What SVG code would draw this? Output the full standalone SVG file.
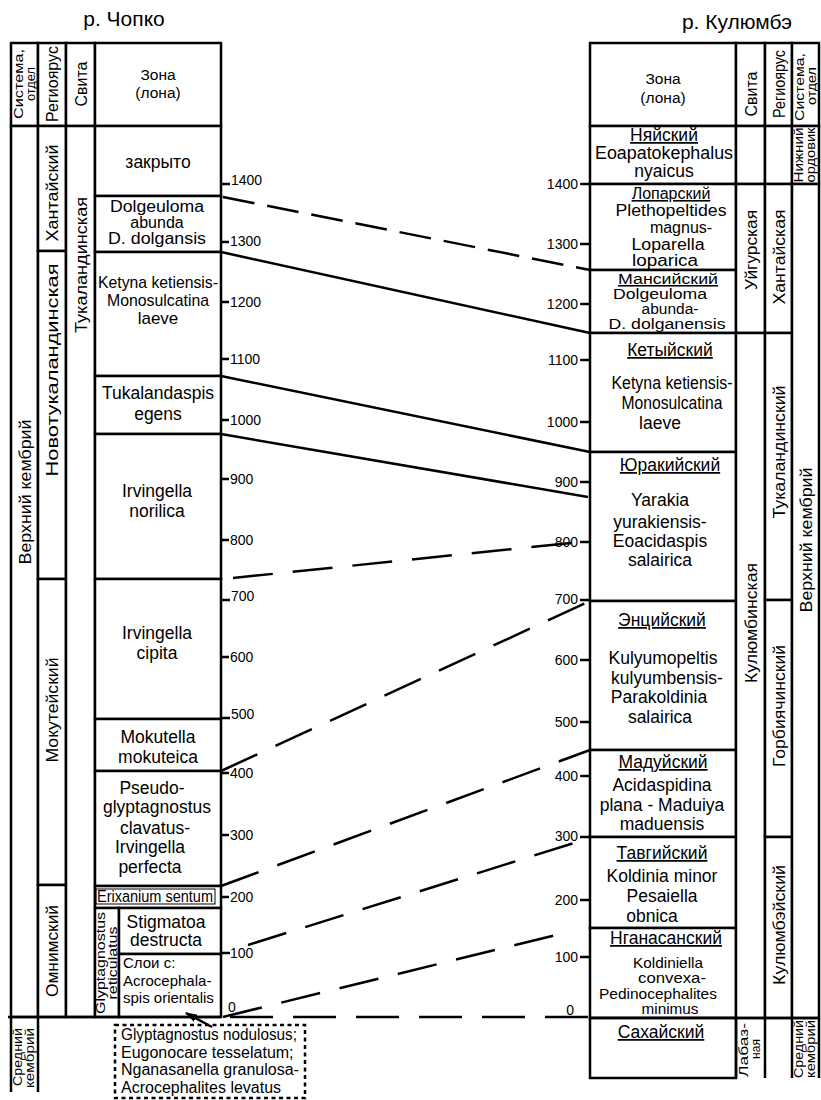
<svg xmlns="http://www.w3.org/2000/svg" width="821" height="1100" viewBox="0 0 821 1100">
<style>
.ln{stroke:#000;stroke-width:2.5;fill:none}
.bx{stroke:#000;stroke-width:2.5;fill:#fff}
.t{font-family:"Liberation Sans",Arial,sans-serif;fill:#000;text-anchor:middle}
.z{font-size:17.5px}
.h{font-size:15.5px}
.u{text-decoration:underline}
.tk{font-size:14px}
.r{font-size:16px;dominant-baseline:central}
.r2{font-size:12px;dominant-baseline:central}
.st{text-anchor:start}
.en{text-anchor:end}
.c{stroke:#000;stroke-width:2.5;fill:none}
.d1{stroke-dasharray:32 13}
.d2{stroke-dasharray:40 20}
.d3{stroke-dasharray:43 20}
</style>
<defs>
<marker id="ah" viewBox="0 0 12 8" refX="11" refY="4" markerWidth="12" markerHeight="8" markerUnits="userSpaceOnUse" orient="auto">
<path d="M0 0L12 4L0 8z" fill="#000"/>
</marker>
</defs>
<rect width="821" height="1100" fill="#fff"/>

<text class="t" x="124" y="26" font-size="21">р. Чопко</text>
<text class="t" x="737" y="29" font-size="21">р. Кулюмбэ</text>

<!-- LEFT TABLE -->
<g id="left-header">
<rect class="bx" x="11" y="43" width="27" height="83"/>
<rect class="bx" x="38" y="43" width="28" height="83"/>
<rect class="bx" x="66" y="43" width="29" height="83"/>
<rect class="bx" x="95" y="43" width="126" height="83"/>
<text class="t r2" transform="translate(19,84) rotate(-90)" textLength="70" lengthAdjust="spacingAndGlyphs">Система,</text>
<text class="t r2" transform="translate(31,84) rotate(-90)" textLength="34" lengthAdjust="spacingAndGlyphs">отдел</text>
<text class="t r" transform="translate(52,84) rotate(-90)" textLength="76" lengthAdjust="spacingAndGlyphs">Региоярус</text>
<text class="t r" transform="translate(81,84) rotate(-90)">Свита</text>
<text class="t h" x="158" y="80">Зона</text>
<text class="t h" x="158" y="98">(лона)</text>
</g>

<g id="left-system">
<rect class="bx" x="11" y="126" width="27" height="891"/>
<text class="t r" font-size="17px" transform="translate(25,492) rotate(-90)" textLength="145" lengthAdjust="spacingAndGlyphs">Верхний кембрий</text>
</g>
<g id="left-system-middle">
<path class="ln" d="M11 1017V1092M38 1017V1092"/>
<text class="t r2" transform="translate(18,1057) rotate(-90)" textLength="58" lengthAdjust="spacingAndGlyphs">Средний</text>
<text class="t r2" transform="translate(30,1058) rotate(-90)" textLength="60" lengthAdjust="spacingAndGlyphs">кембрий</text>
</g>

<g id="left-regio-khantaisky">
<rect class="bx" x="38" y="126" width="28" height="125"/>
<text class="t r" transform="translate(52,193) rotate(-90)" textLength="97" lengthAdjust="spacingAndGlyphs">Хантайский</text>
</g>
<g id="left-regio-novotukalandinskaya">
<rect class="bx" x="38" y="251" width="28" height="328"/>
<text class="t r" transform="translate(52,370) rotate(-90)" textLength="213" lengthAdjust="spacingAndGlyphs">Новотукаландинская</text>
</g>
<g id="left-regio-mokuteisky">
<rect class="bx" x="38" y="579" width="28" height="306"/>
<text class="t r" transform="translate(52,710) rotate(-90)" textLength="105" lengthAdjust="spacingAndGlyphs">Мокутейский</text>
</g>
<g id="left-regio-omnimsky">
<rect class="bx" x="38" y="885" width="28" height="132"/>
<text class="t r" transform="translate(52,951) rotate(-90)" textLength="92" lengthAdjust="spacingAndGlyphs">Омнимский</text>
</g>

<g id="left-svita">
<rect class="bx" x="66" y="126" width="29" height="891"/>
<text class="t r" transform="translate(81,265) rotate(-90)" textLength="136" lengthAdjust="spacingAndGlyphs">Тукаландинская</text>
</g>

<g id="left-zone-zakryto">
<rect class="bx" x="95" y="126" width="126" height="70"/>
<text class="t z" x="158" y="168">закрыто</text>
</g>
<g id="left-zone-dolgeuloma">
<rect class="bx" x="95" y="196" width="126" height="56"/>
<text class="t" font-size="16" x="157" y="212" textLength="94" lengthAdjust="spacingAndGlyphs">Dolgeuloma</text>
<text class="t" font-size="16" x="157" y="228">abunda</text>
<text class="t" font-size="16" x="157" y="244" textLength="98" lengthAdjust="spacingAndGlyphs">D. dolgansis</text>
</g>
<g id="left-zone-ketyna">
<rect class="bx" x="95" y="252" width="126" height="124"/>
<text class="t" font-size="17" x="158" y="288" textLength="120" lengthAdjust="spacingAndGlyphs">Ketyna ketiensis-</text>
<text class="t" font-size="17" x="158" y="306" textLength="102" lengthAdjust="spacingAndGlyphs">Monosulcatina</text>
<text class="t" font-size="17" x="158" y="324">laeve</text>
</g>
<g id="left-zone-tukalandaspis">
<rect class="bx" x="95" y="376" width="126" height="58"/>
<text class="t z" x="158" y="399">Tukalandaspis</text>
<text class="t z" x="158" y="420">egens</text>
</g>
<g id="left-zone-norilica">
<rect class="bx" x="95" y="434" width="126" height="145"/>
<text class="t z" x="157" y="497">Irvingella</text>
<text class="t z" x="157" y="517">norilica</text>
</g>
<g id="left-zone-cipita">
<rect class="bx" x="95" y="579" width="126" height="140"/>
<text class="t z" x="157" y="639">Irvingella</text>
<text class="t z" x="157" y="659">cipita</text>
</g>
<g id="left-zone-mokutella">
<rect class="bx" x="95" y="719" width="126" height="52"/>
<text class="t z" x="158" y="743">Mokutella</text>
<text class="t z" x="158" y="763">mokuteica</text>
</g>
<g id="left-zone-pseudoglyptagnostus">
<rect class="bx" x="95" y="771" width="126" height="115"/>
<text class="t z" x="152" y="794">Pseudo-</text>
<text class="t z" x="157" y="813">glyptagnostus</text>
<text class="t z" x="155" y="834">clavatus-</text>
<text class="t z" x="150" y="853">Irvingella</text>
<text class="t z" x="150" y="873">perfecta</text>
</g>
<g id="left-zone-erixanium">
<rect class="bx" x="95" y="886" width="126" height="22"/>
<rect x="96" y="889" width="119" height="15" fill="none" stroke="#000" stroke-width="1"/>
<text class="t" font-size="16" x="155" y="902" textLength="116" lengthAdjust="spacingAndGlyphs">Erixanium sentum</text>
</g>
<g id="left-svita-glyptagnostus">
<rect class="bx" x="95" y="908" width="24" height="109"/>
<text class="t r2" transform="translate(101,963) rotate(-90)" textLength="102" lengthAdjust="spacingAndGlyphs">Glyptagnostus</text>
<text class="t r2" transform="translate(113,963) rotate(-90)" textLength="73" lengthAdjust="spacingAndGlyphs">reticulatus</text>
</g>
<g id="left-zone-stigmatoa">
<rect class="bx" x="119" y="908" width="102" height="46"/>
<text class="t z" x="166" y="928">Stigmatoa</text>
<text class="t z" x="166" y="946">destructa</text>
</g>
<g id="left-zone-acrocephalaspis">
<rect class="bx" x="119" y="954" width="102" height="63"/>
<text class="t st" font-size="15" x="123" y="968">Слои с:</text>
<text class="t st" font-size="15" x="123" y="986">Acrocephala-</text>
<text class="t st" font-size="15" x="123" y="1003">spis orientalis</text>
</g>
<path class="ln" d="M8 1017H221"/>

<g id="left-scale">
<path class="ln" stroke-width="2" d="M221 184h9M221 242h8M221 302h8M221 359h8M221 420h8M221 479h8M221 540h8M221 600h9M221 657h8M221 718h9M221 773h8M221 835h8M221 897h8M221 953h9"/>
<g class="t tk st">
<text x="231" y="185">1400</text>
<text x="230" y="246">1300</text>
<text x="230" y="307">1200</text>
<text x="230" y="364">1100</text>
<text x="230" y="425">1000</text>
<text x="230" y="484">900</text>
<text x="230" y="545">800</text>
<text x="231" y="601">700</text>
<text x="230" y="662">600</text>
<text x="231" y="719">500</text>
<text x="230" y="778">400</text>
<text x="230" y="840">300</text>
<text x="230" y="902">200</text>
<text x="230" y="958">100</text>
<text x="228" y="1012">0</text>
</g>
</g>

<g id="note-box">
<rect x="115" y="1025" width="190" height="73" fill="none" stroke="#000" stroke-width="2.5" stroke-dasharray="4 3.5"/>
<g class="t st" font-size="16">
<text x="121" y="1040" textLength="176" lengthAdjust="spacingAndGlyphs">Glyptagnostus nodulosus;</text>
<text x="121" y="1058">Eugonocare tesselatum;</text>
<text x="121" y="1075">Nganasanella granulosa-</text>
<text x="121" y="1093">Acrocephalites levatus</text>
</g>
</g>

<!-- RIGHT TABLE -->
<g id="right-header">
<rect class="bx" x="590" y="43" width="146" height="83"/>
<rect class="bx" x="736" y="43" width="29" height="83"/>
<rect class="bx" x="765" y="43" width="27" height="83"/>
<rect class="bx" x="792" y="43" width="27" height="83"/>
<text class="t h" x="663" y="84">Зона</text>
<text class="t h" x="663" y="103">(лона)</text>
<text class="t r" transform="translate(751,94) rotate(-90)">Свита</text>
<text class="t r" transform="translate(779,84) rotate(-90)" textLength="68" lengthAdjust="spacingAndGlyphs">Региоярус</text>
<text class="t r2" transform="translate(800,87) rotate(-90)" textLength="68" lengthAdjust="spacingAndGlyphs">Система,</text>
<text class="t r2" transform="translate(812,86) rotate(-90)" textLength="38" lengthAdjust="spacingAndGlyphs">отдел</text>
</g>

<g id="right-zone-nyaisky">
<rect class="bx" x="590" y="126" width="146" height="58"/>
<text class="t z u" x="664" y="141">Няйский</text>
<text class="t z" x="664" y="159" textLength="138" lengthAdjust="spacingAndGlyphs">Eoapatokephalus</text>
<text class="t z" x="664" y="177">nyaicus</text>
</g>
<g id="right-zone-loparsky">
<rect class="bx" x="590" y="184" width="146" height="86"/>
<text class="t u" font-size="16" x="671" y="199">Лопарский</text>
<text class="t" font-size="16" x="671" y="216" textLength="111" lengthAdjust="spacingAndGlyphs">Plethopeltides</text>
<text class="t" font-size="16" x="681" y="233">magnus-</text>
<text class="t" font-size="16" x="668" y="250" textLength="73" lengthAdjust="spacingAndGlyphs">Loparella</text>
<text class="t" font-size="16" x="665" y="266" textLength="66" lengthAdjust="spacingAndGlyphs">loparica</text>
</g>
<g id="right-zone-mansisky">
<rect class="bx" x="590" y="270" width="146" height="63"/>
<text class="t u" font-size="15.5" x="668" y="284" textLength="100" lengthAdjust="spacingAndGlyphs">Мансийский</text>
<text class="t" font-size="15.5" x="660" y="299" textLength="94" lengthAdjust="spacingAndGlyphs">Dolgeuloma</text>
<text class="t" font-size="15.5" x="670" y="314">abunda-</text>
<text class="t" font-size="15.5" x="667" y="329" textLength="117" lengthAdjust="spacingAndGlyphs">D. dolganensis</text>
</g>
<g id="right-zone-ketyisky">
<rect class="bx" x="590" y="333" width="146" height="119"/>
<text class="t z u" x="670" y="356">Кетыйский</text>
<text class="t z" x="672" y="389" textLength="121" lengthAdjust="spacingAndGlyphs">Ketyna ketiensis-</text>
<text class="t z" x="672" y="409" textLength="101" lengthAdjust="spacingAndGlyphs">Monosulcatina</text>
<text class="t z" x="660" y="429">laeve</text>
</g>
<g id="right-zone-yurakiisky">
<rect class="bx" x="590" y="452" width="146" height="149"/>
<text class="t z u" x="670" y="471">Юракийский</text>
<text class="t z" x="660" y="506">Yarakia</text>
<text class="t z" x="660" y="528">yurakiensis-</text>
<text class="t z" x="660" y="547">Eoacidaspis</text>
<text class="t z" x="660" y="566">salairica</text>
</g>
<g id="right-zone-enciisky">
<rect class="bx" x="590" y="601" width="146" height="149"/>
<text class="t z u" x="662" y="626">Энцийский</text>
<text class="t z" x="663" y="664">Kulyumopeltis</text>
<text class="t z" x="667" y="684">kulyumbensis-</text>
<text class="t z" x="659" y="703">Parakoldinia</text>
<text class="t z" x="660" y="723">salairica</text>
</g>
<g id="right-zone-maduisky">
<rect class="bx" x="590" y="750" width="146" height="87"/>
<text class="t z u" x="663" y="768">Мадуйский</text>
<text class="t z" x="662" y="791">Acidaspidina</text>
<text class="t z" x="662" y="811">plana - Maduiya</text>
<text class="t z" x="662" y="830">maduensis</text>
</g>
<g id="right-zone-tavgiisky">
<rect class="bx" x="590" y="837" width="146" height="91"/>
<text class="t z u" x="662" y="859">Тавгийский</text>
<text class="t z" x="662" y="882">Koldinia minor</text>
<text class="t z" x="662" y="902">Pesaiella</text>
<text class="t z" x="652" y="922">obnica</text>
</g>
<g id="right-zone-nganasansky">
<rect class="bx" x="590" y="928" width="146" height="90"/>
<text class="t z u" x="666" y="944">Нганасанский</text>
<text class="t" font-size="15" x="668" y="968" textLength="70" lengthAdjust="spacingAndGlyphs">Koldiniella</text>
<text class="t" font-size="15" x="672" y="983" textLength="68" lengthAdjust="spacingAndGlyphs">convexa-</text>
<text class="t" font-size="15" x="658" y="999" textLength="118" lengthAdjust="spacingAndGlyphs">Pedinocephalites</text>
<text class="t" font-size="15" x="670" y="1014" textLength="57" lengthAdjust="spacingAndGlyphs">minimus</text>
</g>
<g id="right-zone-sakhaisky">
<rect class="bx" x="590" y="1018" width="146" height="60"/>
<text class="t z u" x="661" y="1038">Сахайский</text>
</g>

<g id="right-svita-uigurskaya">
<rect class="bx" x="736" y="126" width="29" height="58"/>
<rect class="bx" x="736" y="184" width="29" height="149"/>
<text class="t r" transform="translate(751,250) rotate(-90)" textLength="80" lengthAdjust="spacingAndGlyphs">Уйгурская</text>
</g>
<g id="right-svita-kulyumbinskaya">
<rect class="bx" x="736" y="333" width="29" height="685"/>
<text class="t r" transform="translate(751,623) rotate(-90)" textLength="120" lengthAdjust="spacingAndGlyphs">Кулюмбинская</text>
</g>
<g id="right-svita-labaznaya">
<path class="ln" d="M736 1018V1078M765 1018V1078"/>
<text class="t r2" transform="translate(744,1050) rotate(-90)" textLength="54" lengthAdjust="spacingAndGlyphs">Лабаз-</text>
<text class="t r2" transform="translate(756,1049) rotate(-90)">ная</text>
</g>

<g id="right-regio-khantaiskaya">
<rect class="bx" x="765" y="126" width="27" height="58"/>
<rect class="bx" x="765" y="184" width="27" height="149"/>
<text class="t r" transform="translate(779,257) rotate(-90)" textLength="95" lengthAdjust="spacingAndGlyphs">Хантайская</text>
</g>
<g id="right-regio-tukalandinsky">
<rect class="bx" x="765" y="333" width="27" height="267"/>
<text class="t r" transform="translate(779,452) rotate(-90)" textLength="133" lengthAdjust="spacingAndGlyphs">Тукаландинский</text>
</g>
<g id="right-regio-gorbiyachinsky">
<rect class="bx" x="765" y="600" width="27" height="237"/>
<text class="t r" transform="translate(779,706) rotate(-90)" textLength="122" lengthAdjust="spacingAndGlyphs">Горбиячинский</text>
</g>
<g id="right-regio-kulyumbeisky">
<rect class="bx" x="765" y="837" width="27" height="181"/>
<text class="t r" transform="translate(779,925) rotate(-90)" textLength="120" lengthAdjust="spacingAndGlyphs">Кулюмбэйский</text>
</g>
<path class="ln" d="M792 1018V1078"/>

<g id="right-system-lower-ordovician">
<rect class="bx" x="792" y="126" width="27" height="58"/>
<text class="t r2" transform="translate(799,155) rotate(-90)" textLength="55" lengthAdjust="spacingAndGlyphs">Нижний</text>
<text class="t r2" transform="translate(811,155) rotate(-90)" textLength="55" lengthAdjust="spacingAndGlyphs">ордовик</text>
</g>
<g id="right-system-upper-cambrian">
<rect class="bx" x="792" y="184" width="27" height="834"/>
<text class="t r" font-size="17px" transform="translate(806,540) rotate(-90)" textLength="145" lengthAdjust="spacingAndGlyphs">Верхний кембрий</text>
</g>
<g id="right-system-middle-cambrian">
<path class="ln" d="M819 1018V1078"/>
<text class="t r2" transform="translate(799,1049) rotate(-90)" textLength="58" lengthAdjust="spacingAndGlyphs">Средний</text>
<text class="t r2" transform="translate(811,1049) rotate(-90)" textLength="58" lengthAdjust="spacingAndGlyphs">кембрий</text>
</g>

<g id="right-scale">
<path class="ln" stroke-width="2" d="M580 184h10M580 244h10M580 304h10M580 360h10M580 422h10M580 482h10M580 542h10M580 600h10M580 660h10M580 722h10M580 776h10M580 837h10M580 900h10M580 957h10"/>
<g class="t tk en">
<text x="578" y="189">1400</text>
<text x="578" y="249">1300</text>
<text x="578" y="309">1200</text>
<text x="578" y="365">1100</text>
<text x="578" y="427">1000</text>
<text x="578" y="487">900</text>
<text x="578" y="547">800</text>
<text x="578" y="604">700</text>
<text x="578" y="665">600</text>
<text x="578" y="727">500</text>
<text x="578" y="781">400</text>
<text x="578" y="841">300</text>
<text x="578" y="905">200</text>
<text x="578" y="962">100</text>
<text x="574" y="1015">0</text>
</g>
</g>

<g id="connectors">
<path class="c d1" d="M223 197L590 270"/>
<path class="c" d="M221 252L590 333"/>
<path class="c" d="M221 376L590 452"/>
<path class="c" d="M221 434L588 497"/>
<path class="c d2" d="M233 578L590 541"/>
<path class="c d2" d="M221 771L590 601"/>
<path class="c d2" d="M221 886L590 750"/>
<path class="c d2" d="M248 945L590 838"/>
<path class="c d2" d="M223 1017L568 932"/>
<path class="c d3" d="M230 1017L590 1017"/>
<path class="c" d="M590 1018H819"/>
<path class="c" d="M212 1027L186 1013" marker-end="url(#ah)"/>
</g>
</svg>
